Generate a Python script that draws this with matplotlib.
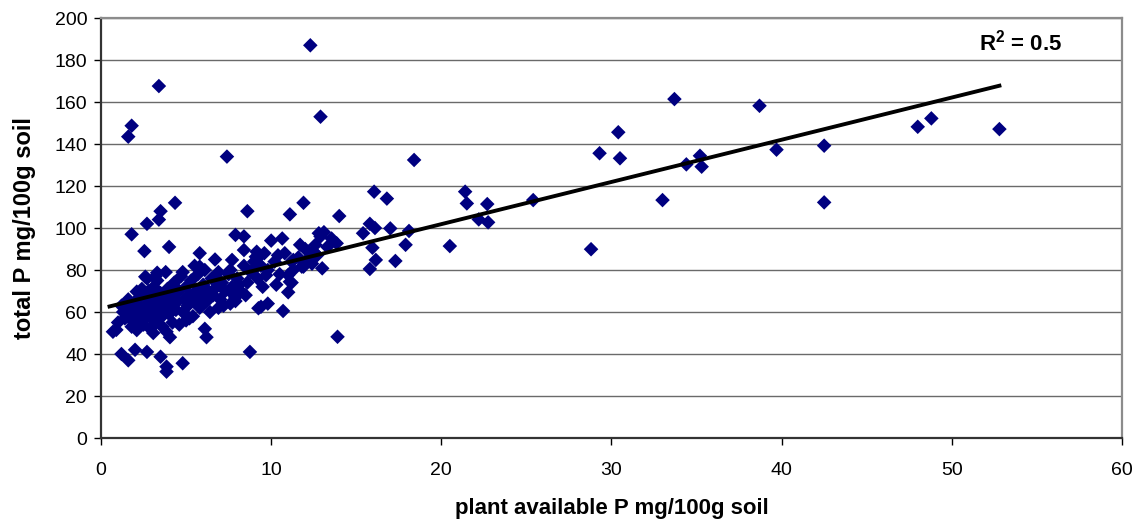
import numpy as np
import matplotlib.pyplot as plt

plt.rcParams['font.family'] = ['Liberation Sans', 'DejaVu Sans']
plt.rcParams['mathtext.fontset'] = 'custom'
plt.rcParams['mathtext.rm'] = 'Liberation Sans:bold'
plt.rcParams['mathtext.bf'] = 'Liberation Sans:bold'

# plant available P (mg/100g soil)
avail_p = [
    # outliers and sparse points
    1.6, 1.8, 3.4, 12.3, 12.9, 7.4, 18.4, 33.7, 38.7, 30.4, 30.5, 29.3, 48.0, 48.8, 52.8,
    39.7, 42.5, 42.5, 33.0, 34.4, 35.2, 35.3, 25.4, 28.8, 20.5, 21.4, 21.5, 22.2, 22.7, 22.75,
    16.05, 16.8, 17.9, 18.1, 17.3, 16.15, 15.8, 15.4, 15.8, 16.1, 17.0, 15.95, 14.0, 13.9,
    8.75, 4.8, 3.85, 3.85, 3.5, 1.2, 1.6, 2.0, 2.7, 0.7, 4.05, 3.85, 4.6, 5.2, 6.1, 6.2, 7.2,
    1.4, 1.8, 2.1, 2.9, 3.07, 2.5, 2.1, 2.7, 3.2,
    4.35, 3.5, 3.4, 2.7, 1.8, 2.55, 4.0, 5.8, 6.7, 3.3, 2.6, 4.8, 5.8, 6.9,
    11.9, 8.6, 11.1, 7.9, 8.4, 10.0, 10.65, 8.4, 9.15, 10.4, 11.7, 13.1, 12.9, 13.55, 13.85,
    7.7, 9.25, 12.2, 12.3, 13.0, 7.6, 9.05, 11.2, 11.8, 12.7,
    10.7, 9.25, 9.8, 7.9, 11.0, 10.3, 11.2, 7.6, 8.1, 9.7, 11.0, 11.1, 9.4, 12.1, 11.9, 9.1,
    11.3, 12.5, 12.8,
    # dense low-P group
    1.0, 1.3, 1.5, 1.7, 1.8, 2.0, 2.0, 2.2, 2.3, 2.4, 2.5, 2.6, 2.7, 2.8, 2.9, 3.0, 3.0, 3.1,
    3.2, 3.3, 3.4, 3.5, 3.6, 3.7, 3.8, 3.9, 4.0, 4.1, 4.2, 4.3, 4.4, 4.5, 4.6, 4.7, 4.8, 4.9,
    5.0, 5.1, 5.2, 5.3, 5.4, 5.5, 5.6, 5.7, 5.8, 5.9, 6.0, 6.1, 6.2, 6.3, 6.5, 6.6, 6.8, 7.0,
    7.1, 7.3, 7.5, 7.7, 7.9, 8.0, 8.2, 8.4, 8.6, 8.8, 9.0, 9.2, 9.4, 9.6, 9.8, 10.2, 10.5,
    10.8, 11.3, 11.6, 12.0, 12.4, 12.6, 13.3, 1.2, 2.1, 3.6, 4.2, 5.0, 6.4, 0.9, 2.4, 3.3,
    1.6, 3.8, 5.5, 6.9, 7.6, 8.5, 9.5,
]

# total P (mg/100g soil)
total_p = [
    143.5, 148.7, 167.6, 187.0, 153.0, 134.0, 132.4, 161.4, 158.2, 145.6, 133.2, 135.6, 148.2, 152.2, 147.1,
    137.3, 139.2, 112.2, 113.3, 130.3, 134.4, 129.2, 113.3, 89.9, 91.4, 117.3, 111.7, 104.1, 111.4, 102.7,
    117.3, 114.0, 92.0, 98.6, 84.3, 84.8, 80.5, 97.5, 102.0, 100.0, 99.8, 90.6, 105.7, 48.2,
    41.0, 35.6, 34.0, 31.6, 38.7, 40.0, 37.0, 42.0, 41.0, 50.6, 48.0, 50.6, 54.0, 57.0, 52.0, 48.0, 63.0,
    57.0, 53.0, 51.4, 52.0, 50.0, 54.0, 69.7, 76.0, 77.0,
    112.0, 108.0, 104.0, 102.0, 97.0, 89.0, 91.0, 88.0, 85.0, 78.7, 76.8, 79.0, 81.6, 79.0,
    112.0, 108.0, 106.5, 96.7, 96.0, 94.0, 95.0, 89.5, 88.7, 87.0, 92.0, 98.0, 96.0, 95.0, 92.7,
    84.8, 86.0, 88.7, 84.8, 80.8, 80.0, 80.8, 84.0, 81.6, 87.0,
    60.5, 61.8, 64.0, 65.2, 69.4, 73.0, 74.0, 69.7, 73.0, 77.5, 77.6, 74.4, 62.5, 84.8, 81.6, 86.3,
    84.8, 88.7, 97.5,
    55, 60, 58, 62, 56, 60, 65, 58, 62, 68, 56, 60, 64, 70, 58, 62, 67, 72,
    55, 60, 64, 69, 58, 62, 66, 71, 59, 63, 68, 74, 61, 65, 70, 77, 60, 66,
    72, 63, 68, 75, 58, 65, 70, 78, 62, 67, 73, 80, 65, 70, 76, 68, 72, 66,
    74, 70, 78, 72, 67, 76, 70, 82, 74, 79, 84, 76, 82, 88, 80, 84, 78,
    88, 80, 86, 90, 83, 92, 91, 63, 53, 53, 55, 56, 60, 51.5, 71, 75,
    66, 79, 82, 62, 64, 68, 72,
]

x = np.array(avail_p)
y = np.array(total_p)

# linear trend through the points
slope, intercept = np.polyfit(x, y, 1)
r2 = 0.5
fit_x = np.array([0.5, x.max()])
fit_y = slope * fit_x + intercept

fig = plt.figure(figsize=(11.39, 5.22), dpi=100)
ax = fig.add_axes([0.0887, 0.1609, 0.8963, 0.8046])

for yv in range(20, 201, 20):
    ax.axhline(yv, color='#6a6a6a', lw=1.0, zorder=1)

ax.scatter(x, y, marker='D', s=55, color='#000080', edgecolors='none', zorder=3)
ax.plot(fit_x, fit_y, color='black', lw=2.8, zorder=4)

ax.text(51.6, 188.5, r'R$^{2}$ = 0.5', fontsize=16, fontweight='bold', va='center', ha='left')

ax.set_xlim(0, 60)
ax.set_ylim(0, 200)
ax.set_xticks(np.arange(0, 61, 10))
ax.set_yticks(np.arange(0, 201, 20))
ax.tick_params(axis='both', direction='out', length=5, width=1, labelsize=14, colors='black')
ax.tick_params(axis='x', pad=12)
ax.tick_params(axis='y', pad=5)

ax.set_xlabel('plant available P mg/100g soil', fontsize=16, fontweight='bold', labelpad=14)
ax.set_ylabel('total P mg/100g soil', fontsize=17, fontweight='bold', labelpad=13)

for side in ['left', 'bottom']:
    ax.spines[side].set_color('#333333')
    ax.spines[side].set_linewidth(1.6)
for side in ['top', 'right']:
    ax.spines[side].set_color('#8c8c8c')
    ax.spines[side].set_linewidth(1.6)

fig.savefig('out.png', dpi=100)
